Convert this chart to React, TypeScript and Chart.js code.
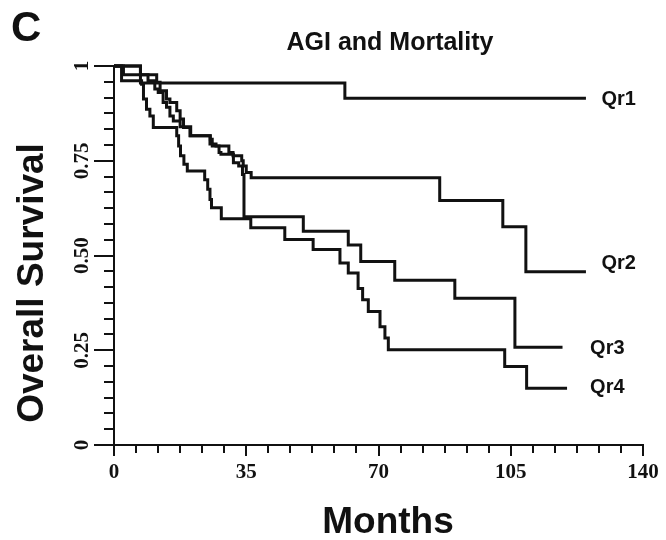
import { useEffect, useRef } from "react";
import { Chart, registerables } from "chart.js";

Chart.register(...registerables);

// Kaplan–Meier survival by AGI quartile (months, survival fraction)
const seriesNames = ["Qr1", "Qr2", "Qr3", "Qr4"];

const qr1Months = [0, 7, 61.1, 124.9];
const qr1Surv = [1, 0.955, 0.915, 0.915];

const qr2Months = [0, 7, 11.3, 12.2, 13.9, 14.8, 16.6, 17.5, 18.4, 18.8, 20.1, 25.4, 27, 30.4, 31.5, 33.8, 34.2, 35, 36.3, 86.2, 102.9, 109, 124.9];
const qr2Surv = [1, 0.977, 0.957, 0.935, 0.913, 0.904, 0.882, 0.86, 0.838, 0.838, 0.816, 0.794, 0.789, 0.772, 0.763, 0.75, 0.736, 0.719, 0.705, 0.645, 0.576, 0.457, 0.457];

const qr3Months = [0, 2.5, 9, 10.8, 11.7, 13, 13.9, 14.8, 15.7, 17.5, 20.3, 25.5, 26, 27.8, 28.3, 31.6, 33, 34, 34.4, 50.1, 62, 65.3, 74.3, 90.2, 106.1, 118.7];
const qr3Surv = [1, 0.977, 0.961, 0.939, 0.93, 0.904, 0.891, 0.868, 0.855, 0.84, 0.816, 0.807, 0.789, 0.772, 0.767, 0.745, 0.736, 0.714, 0.602, 0.564, 0.528, 0.484, 0.435, 0.387, 0.258, 0.258];

const qr4Months = [0, 2, 7.3, 7.8, 8.6, 9.5, 10.4, 16.6, 17.1, 17.6, 18.5, 19.4, 24, 24.8, 25.4, 25.8, 28.4, 36.2, 45.2, 52.7, 59.8, 62, 64.6, 65.8, 67.3, 70.4, 71.7, 72.6, 103.4, 109.2, 119.9];
const qr4Surv = [1, 0.961, 0.952, 0.913, 0.886, 0.868, 0.838, 0.816, 0.789, 0.763, 0.741, 0.723, 0.7, 0.675, 0.648, 0.626, 0.597, 0.573, 0.542, 0.516, 0.48, 0.454, 0.413, 0.383, 0.352, 0.312, 0.282, 0.251, 0.207, 0.15, 0.15];

const xTickValues = [0, 35, 70, 105, 140];
const xTickLabels = ["0", "35", "70", "105", "140"];
const yTickValues = [0, 0.25, 0.5, 0.75, 1];
const yTickLabels = ["0", "0.25", "0.50", "0.75", "1"];
const minorPerMajor = 6;

const titleText = "AGI and Mortality";
const panelLetter = "C";
const xTitle = "Months";
const yTitle = "Overall Survival";

const allMonths = [qr1Months, qr2Months, qr3Months, qr4Months];
const allSurv = [qr1Surv, qr2Surv, qr3Surv, qr4Surv];

const SANS = '"Liberation Sans", Arial, Helvetica, sans-serif';
const SERIF = '"Liberation Serif", "Times New Roman", serif';

// label placement next to each curve's end (month, vertical nudge in px)
const labelAnchor = [
  { month: 129, dy: 1 },
  { month: 129, dy: -8 },
  { month: 126, dy: 1 },
  { month: 126, dy: -1 },
];

const decorations = {
  id: "kmDecorations",
  afterDraw(chart: any) {
    const ctx: CanvasRenderingContext2D = chart.ctx;
    const xs = chart.scales.x;
    const ys = chart.scales.y;
    const x0 = xs.getPixelForValue(0);
    const x1 = xs.getPixelForValue(140);
    const yTop = ys.getPixelForValue(1);
    const yBot = ys.getPixelForValue(0);

    ctx.save();
    ctx.strokeStyle = "#111";
    ctx.fillStyle = "#111";
    ctx.lineWidth = 2;
    ctx.lineCap = "butt";

    // axis lines
    ctx.beginPath();
    ctx.moveTo(x0, yTop - 1);
    ctx.lineTo(x0, yBot + 1);
    ctx.moveTo(x0 - 1, yBot);
    ctx.lineTo(x1 + 1, yBot);
    ctx.stroke();

    // y tick marks
    const nY = (yTickValues.length - 1) * minorPerMajor;
    for (let i = 0; i <= nY; i++) {
      const v = i / nY;
      const py = Math.round(ys.getPixelForValue(v));
      const len = i % minorPerMajor === 0 ? 20 : 10;
      ctx.beginPath();
      ctx.moveTo(x0 - len, py);
      ctx.lineTo(x0, py);
      ctx.stroke();
    }

    // x tick marks
    const nX = (xTickValues.length - 1) * minorPerMajor;
    for (let i = 0; i <= nX; i++) {
      const m = (i * 140) / nX;
      const px = Math.round(xs.getPixelForValue(m));
      const len = i % minorPerMajor === 0 ? 11 : 8;
      ctx.beginPath();
      ctx.moveTo(px, yBot);
      ctx.lineTo(px, yBot + len);
      ctx.stroke();
    }

    // y tick labels, rotated
    ctx.font = `bold 21px ${SERIF}`;
    ctx.textAlign = "center";
    ctx.textBaseline = "middle";
    yTickValues.forEach((v, i) => {
      const py = ys.getPixelForValue(v);
      ctx.save();
      ctx.translate(x0 - 31, py);
      ctx.rotate(-Math.PI / 2);
      ctx.fillText(yTickLabels[i], 0, 0);
      ctx.restore();
    });

    // x tick labels
    ctx.textBaseline = "top";
    xTickValues.forEach((v, i) => {
      ctx.fillText(xTickLabels[i], xs.getPixelForValue(v), yBot + 17);
    });

    // series labels
    ctx.font = `bold 20px ${SANS}`;
    ctx.textAlign = "left";
    ctx.textBaseline = "middle";
    seriesNames.forEach((name, i) => {
      const s = allSurv[i];
      const py = ys.getPixelForValue(s[s.length - 1]) + labelAnchor[i].dy;
      ctx.fillText(name, xs.getPixelForValue(labelAnchor[i].month), py);
    });

    // titles
    ctx.textBaseline = "alphabetic";
    ctx.font = `bold 42px ${SANS}`;
    ctx.textAlign = "left";
    ctx.fillText(panelLetter, 11, 41);

    ctx.font = `bold 25px ${SANS}`;
    ctx.textAlign = "center";
    ctx.fillText(titleText, 390, 50);

    ctx.font = `bold 37px ${SANS}`;
    ctx.fillText(xTitle, 388, 533);

    ctx.save();
    ctx.translate(43, 283);
    ctx.rotate(-Math.PI / 2);
    ctx.fillText(yTitle, 0, 0);
    ctx.restore();

    ctx.restore();
  },
};

export default function App() {
  const canvasRef = useRef<HTMLCanvasElement | null>(null);

  useEffect(() => {
    const canvas = canvasRef.current;
    if (!canvas) return;
    // stepped 'before': each survival level is held until the next event time
    const datasets = seriesNames.map((name, i) => ({
      label: name,
      data: allMonths[i].map((m, j) => ({ x: m, y: allSurv[i][j] })),
      stepped: "before" as const,
      borderColor: "#111",
      backgroundColor: "#111",
      borderWidth: 3,
      pointRadius: 0,
      fill: false,
      clip: false as any,
    }));
    const chart = new Chart(canvas, {
      type: "line",
      data: { datasets },
      options: {
        animation: false,
        responsive: false,
        devicePixelRatio: 1,
        layout: { padding: { left: 114, top: 66, right: 23, bottom: 95 } },
        plugins: {
          legend: { display: false },
          tooltip: { enabled: false },
          title: { display: false },
        },
        scales: {
          x: { type: "linear", min: 0, max: 140, display: false },
          y: { type: "linear", min: 0, max: 1, display: false },
        },
      },
      plugins: [decorations],
    });
    return () => chart.destroy();
  }, []);

  return (
    <div style={{ position: "fixed", left: 0, top: 0, width: 666, height: 540, background: "#fff" }}>
      <canvas ref={canvasRef} width={666} height={540} style={{ display: "block" }} />
    </div>
  );
}
